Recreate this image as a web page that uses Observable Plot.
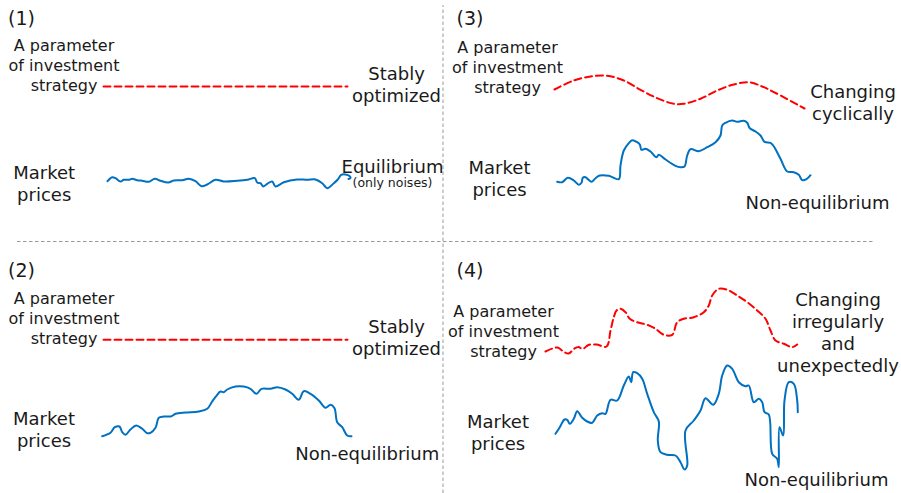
<!DOCTYPE html>
<html><head><meta charset="utf-8">
<script src="https://cdn.jsdelivr.net/npm/d3@7"></script>
<script src="https://cdn.jsdelivr.net/npm/@observablehq/plot@0.6"></script>
<style>html,body{margin:0;padding:0;background:#fff;} #chart{width:901px;height:493px;}</style>
</head><body><div id="chart"></div>
<script>
// ---- Text ----
const panelNumbers = ["(1)", "(2)", "(3)", "(4)"];
const parameterLabel = "A parameter\nof investment\nstrategy";
const priceLabel = "Market\nprices";
const stableLabel = "Stably\noptimized";
const cyclicLabel = "Changing\ncyclically";
const irregularLabel = "Changing\nirregularly\nand\nunexpectedly";
const equilibriumLabel = "Equilibrium";
const noiseLabel = "(only noises)";
const nonEquilibriumLabel = "Non-equilibrium";

// ---- Series: [time, level] ----
const p1Param = [[103, 407], [347, 407]];
const p1Price = [[107,312.3],[111.7,316.3],[115,315.3],[120,312],[123.3,313.7],[128.3,313.7],[131.7,314.7],[136.7,313.3],[141.7,312.7],[148.3,311.7],[154.3,314.7],[160,312.7],[167.7,311],[173.3,313],[181.7,313.3],[188.3,314.7],[195,312.3],[201,307.3],[206.7,309],[215,313.7],[223.3,312],[236.7,312.7],[246.7,313.7],[254.3,315.3],[256.7,311],[260,310.3],[262.7,307],[266.7,309.7],[271.7,312],[275,307],[283.3,311.3],[296.7,314],[306.7,313.7],[315,314],[321.7,310.3],[326.7,305.3],[333.3,310.3],[337.3,314],[340.7,318.7],[345,319],[349,317.5],[350,315.5],[348,314.5]];

const p2Param = [[103, 153.7], [347, 153.7]];
const p2Price = [[101.7,57.3],[110,60.7],[114.3,66.3],[119,67],[121.7,61.3],[125,58.7],[130,64],[135.7,68],[141.7,64.7],[146.7,60.3],[150,60.7],[155,65.7],[158.3,75.7],[163.3,77],[171,77.3],[175,79.7],[185,81],[198.3,82],[206.7,84.7],[211.7,92],[215.7,97.3],[220,102],[223.3,101.3],[226.7,104],[235,107],[243.3,107],[250,104.7],[256,99.7],[261,104.7],[270,104.7],[276.7,106.3],[285,104],[291.7,99.7],[298.3,93.7],[303.3,102.3],[310,99.7],[318.3,93],[325,85.7],[330,88.7],[334,85.3],[336.7,71.3],[341.7,66.3],[346.7,58],[351,57.3]];

const p3Param = [[554,404],[573.3,413],[590,417],[606.7,417.7],[623.3,413],[640,403.7],[656.7,395.3],[673.3,389.7],[683.3,389.7],[700,394.7],[716.7,403],[733.3,409],[748.3,411.3],[763.3,406.3],[780,398],[804,385]];
const p3Price = [[556.7,311.7],[561.7,311.3],[567.3,315.7],[573.3,313],[578.3,308.7],[581,310.7],[582.3,315.7],[585,316.3],[587.7,314],[591,311.7],[595,315.3],[599.3,318],[608.3,317.7],[618.3,314.3],[620,328],[623.3,343],[628.3,350.3],[631.7,353.3],[636.7,351.3],[639.3,349],[641,343.7],[645,344.7],[650,342],[656,336.3],[658.3,338.7],[665,334],[675,327.7],[680,326.3],[684,327],[686.7,338],[690,344.3],[698.3,342.3],[706.7,346.3],[715,351.3],[720,358],[721.7,368],[725,370.7],[731.7,373],[736.7,371.7],[743.3,372.7],[746.7,370.7],[749.3,365.3],[755,362],[760,358],[764,351.7],[770,350.7],[772.7,348],[775.3,343.7],[780,334.7],[786.7,322],[793.3,321.3],[798.3,318.7],[801.7,313.3],[806,314.3],[810,318.3]];

const p4Param = [[545,142],[552,145],[557,146],[563,142],[568,140],[574,145],[578,146.5],[582,144.5],[588,148.5],[596,149],[606,147],[610,163],[613.3,176.3],[616,183],[620,184.7],[625,181.3],[629.3,174.7],[636.7,171.3],[646.7,168.7],[655,164.7],[663.3,158.7],[671.7,158.7],[676.7,171.3],[683.3,174.7],[693.3,176.3],[703.3,181.3],[708.3,188],[711.7,198],[718.3,204.7],[726.7,203.7],[736.7,198],[746.7,191.3],[756.7,183],[765,174.7],[770,163],[775,153],[783.3,149.7],[791.7,146.3],[796.7,149]];
const p4Price = [[555,59.7],[559.3,66.3],[564,74],[566.7,73.7],[569.3,69.7],[573.3,74.7],[576.7,82.3],[581.7,75.7],[586.7,72],[591.7,70.7],[596.7,78],[601.7,80.3],[605,79.7],[610,93.7],[616.7,93],[623.3,108],[628.3,117],[630.7,111.3],[632.7,121.3],[636.7,120.3],[641.7,114.7],[646.7,99.7],[653.3,81.3],[658.3,72],[657.3,53],[660,41.3],[666.7,38.7],[675,38],[680,31.3],[684,24],[686.7,28],[685,63],[693.3,73],[700,83],[705,95.3],[712.7,88.7],[718.3,99.7],[721.7,118],[726.7,128],[731.7,124.7],[738.3,111.3],[745,107.3],[748.3,108],[753.3,91.3],[758.3,94.7],[761.7,91.3],[764,81.3],[768.3,79],[771.7,39.7],[776.7,34.7],[778.3,26.3],[779,66.3],[782.7,58],[784,93],[788.3,111.3],[793.3,109.7],[796.7,93],[797.3,81.3]];

// ---- Layout / styles ----
const RED = "#FF0000", BLUE = "#0070C0", INK = "#1a1a1a", GRID = "#9a9a9a";
const FONT = "'DejaVu Sans', Verdana, sans-serif";

const numberNotes = [
  {text: panelNumbers[0], x: 7.5, y: 475},
  {text: panelNumbers[1], x: 7.5, y: 223},
  {text: panelNumbers[2], x: 456, y: 475},
  {text: panelNumbers[3], x: 456, y: 223}
];
const paramNotes = [
  {text: parameterLabel, x: 63.5, y: 428.5},
  {text: parameterLabel, x: 63.5, y: 175.5},
  {text: parameterLabel, x: 507, y: 426.5},
  {text: parameterLabel, x: 503, y: 162.5}
];
const bigNotes = [
  {text: priceLabel, x: 43.7, y: 311},
  {text: priceLabel, x: 43.5, y: 64.5},
  {text: priceLabel, x: 499, y: 315.5},
  {text: priceLabel, x: 497.5, y: 61.7},
  {text: stableLabel, x: 396, y: 410},
  {text: stableLabel, x: 396, y: 157},
  {text: cyclicLabel, x: 852.5, y: 392},
  {text: irregularLabel, x: 837.5, y: 161.7},
  {text: equilibriumLabel, x: 392, y: 328},
  {text: nonEquilibriumLabel, x: 366.7, y: 40.3},
  {text: nonEquilibriumLabel, x: 817, y: 291.3},
  {text: nonEquilibriumLabel, x: 816, y: 14.7}
];
const smallNotes = [{text: noiseLabel, x: 392, y: 310.3}];

const X = d => d[0], Y = d => d[1];
const dashed = {x: X, y: Y, stroke: RED, strokeWidth: 2, strokeDasharray: "7,4", curve: "catmull-rom"};
const solid = {x: X, y: Y, stroke: BLUE, strokeWidth: 2, curve: "catmull-rom"};

const chart = Plot.plot({
  width: 901,
  height: 493,
  margin: 0,
  x: {domain: [0, 901], axis: null},
  y: {domain: [0, 493], axis: null},
  style: {background: "#fff", fontFamily: FONT, color: INK},
  marks: [
    Plot.ruleX([442.5], {y1: 0, y2: 488, stroke: GRID, strokeWidth: 1, strokeDasharray: "3.5,2.5"}),
    Plot.ruleY([252], {x1: 17, x2: 875, stroke: GRID, strokeWidth: 1, strokeDasharray: "3.5,2.5"}),
    Plot.line(p1Param, dashed),
    Plot.line(p2Param, dashed),
    Plot.line(p3Param, dashed),
    Plot.line(p4Param, dashed),
    Plot.line(p1Price, solid),
    Plot.line(p2Price, solid),
    Plot.line(p3Price, solid),
    Plot.line(p4Price, solid),
    Plot.text(numberNotes, {x: "x", y: "y", text: "text", textAnchor: "start", fontSize: 19, fill: INK}),
    Plot.text(paramNotes, {x: "x", y: "y", text: "text", fontSize: 16, lineHeight: 1.25, lineAnchor: "middle", fill: INK}),
    Plot.text(bigNotes, {x: "x", y: "y", text: "text", fontSize: 18, lineHeight: 1.22, lineAnchor: "middle", fill: INK}),
    Plot.text(smallNotes, {x: "x", y: "y", text: "text", fontSize: 12.5, fill: INK})
  ]
});
document.getElementById("chart").appendChild(chart);
</script>
</body></html>
